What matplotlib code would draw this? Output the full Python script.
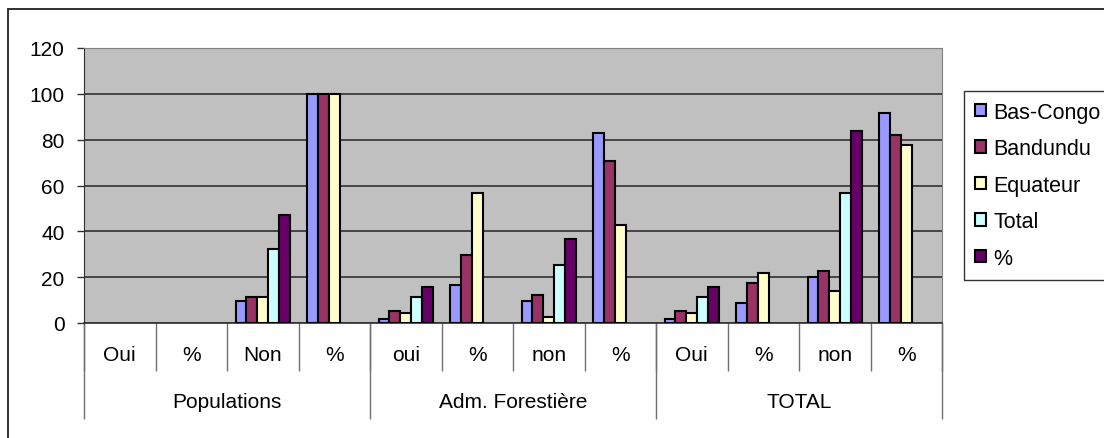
import numpy as np
import matplotlib.pyplot as plt
from matplotlib.patches import Rectangle

plt.rcParams['font.family'] = ['Liberation Sans', 'DejaVu Sans']

categories = ['Oui', '%', 'Non', '%', 'oui', '%', 'non', '%', 'Oui', '%', 'non', '%']
groups = ['Populations', 'Adm. Forestière', 'TOTAL']
series = ['Bas-Congo', 'Bandundu', 'Equateur', 'Total', '%']

nan = np.nan
bas_congo = [0, 0, 9.6, 100, 1.7, 16.6, 9.6, 82.9, 1.7, 8.7, 20.2, 91.7]
bandundu = [0, 0, 11.5, 100, 5.2, 29.7, 12.2, 70.7, 5.2, 17.6, 22.8, 82.1]
equateur = [0, 0, 11.5, 100, 4.4, 56.7, 2.8, 42.8, 4.4, 21.8, 14.0, 77.7]
total = [0, nan, 32.4, nan, 11.5, nan, 25.3, nan, 11.5, nan, 56.7, nan]
pct = [0, nan, 47.3, nan, 15.9, nan, 36.7, nan, 15.9, nan, 83.9, nan]

colors = ['#9999FF', '#993366', '#FFFFCC', '#CCFFFF', '#660066']
values = [bas_congo, bandundu, equateur, total, pct]

fig = plt.figure(figsize=(11.04, 4.39), dpi=100)
ax = fig.add_axes([84 / 1104, 115 / 439, 858 / 1104, 275 / 439])
ax.set_facecolor('#C0C0C0')

x = np.arange(len(categories))
width = 0.152
for i, (name, vals, col) in enumerate(zip(series, values, colors)):
    v = np.array(vals, dtype=float)
    v[v == 0] = nan  # zero bars are not drawn
    ax.bar(x + (i - 2) * width, v, width, color=col, edgecolor='black',
           linewidth=1.5, label=name, zorder=3)

ax.set_xlim(-0.5, len(categories) - 0.5)
ax.set_ylim(0, 120)
ax.set_yticks(np.arange(0, 121, 20))
ax.yaxis.grid(True, color='#303030', linewidth=1.2, zorder=1)
ax.tick_params(axis='y', length=5, width=1, color='#303030', pad=9, labelsize=15)

for side in ['top', 'right']:
    ax.spines[side].set_color('#808080')
ax.spines['left'].set_color('#303030')
ax.spines['bottom'].set_color('#303030')
ax.spines['bottom'].set_linewidth(1.2)

# category level: boundary ticks + centered labels
ax.set_xticks(np.arange(-0.5, len(categories), 1.0))
ax.set_xticklabels([])
ax.tick_params(axis='x', which='major', length=34.5, width=1, color='#707070')
ax.set_xticks(x, minor=True)
ax.set_xticklabels(categories, minor=True)
ax.tick_params(axis='x', which='minor', length=0, pad=16, labelsize=15)

# group level
sec = ax.secondary_xaxis(location=0)
sec.set_xticks([-0.5, 3.5, 7.5, 11.5])
sec.set_xticklabels([])
sec.tick_params(axis='x', which='major', length=69, width=1, color='#707070')
sec.set_xticks([1.5, 5.5, 9.5], minor=True)
sec.set_xticklabels(groups, minor=True)
sec.tick_params(axis='x', which='minor', length=0, pad=50, labelsize=15)
sec.spines['bottom'].set_visible(False)

leg = fig.legend(loc='upper left', bbox_to_anchor=(964 / 1104, 1 - 92 / 439),
                 frameon=True, fancybox=False, edgecolor='black', fontsize=15.5,
                 handlelength=0.5, handleheight=0.5, handletextpad=0.35,
                 labelspacing=0.72, borderpad=0.5, borderaxespad=0)
leg.get_frame().set_linewidth(1)

fig.patches.append(Rectangle((8 / 1104, -0.1), 1.2, 1 - 10 / 439 + 0.1,
                             transform=fig.transFigure, fill=False,
                             edgecolor='#202020', linewidth=1.3))

fig.savefig('out.png', dpi=100)
